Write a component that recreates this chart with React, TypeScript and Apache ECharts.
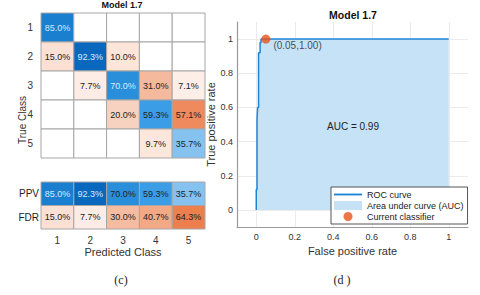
import React, { useEffect, useRef } from "react";
import * as echarts from "echarts";

const classes = ["1", "2", "3", "4", "5"];
const matrix: (number | null)[][] = [
  [85.0, null, null, null, null],
  [15.0, 92.3, 10.0, null, null],
  [null, 7.7, 70.0, 31.0, 7.1],
  [null, null, 20.0, 59.3, 57.1],
  [null, null, null, 9.7, 35.7],
];
const summaryRows = ["PPV", "FDR"];
const ppv = [85.0, 92.3, 70.0, 59.3, 35.7];
const fdr = [15.0, 7.7, 30.0, 40.7, 64.3];

const rocFpr = [0, 0, 0.004, 0.004, 0.007, 0.007, 0.012, 0.012, 0.02, 0.02, 0.025, 0.025, 1];
const rocTpr = [0, 0.12, 0.12, 0.53, 0.53, 0.6, 0.6, 0.92, 0.92, 0.98, 0.98, 1, 1];
const currentPoint = [0.05, 1.0];
const aucValue = 0.99;

const FONT = "Liberation Sans, Arial, sans-serif";

const blueStops: [number, string][] = [
  [0, "#ffffff"], [35.7, "#85c2ef"], [59.3, "#3b9de5"], [70, "#2a8fdb"],
  [85, "#1b7fd0"], [92.3, "#0a67be"], [100, "#0050a8"],
];
const orangeStops: [number, string][] = [
  [0, "#ffffff"], [7.5, "#fdede6"], [10, "#fde5d9"], [15, "#fbe0d3"], [20, "#f8d2c0"],
  [30, "#f5bca1"], [40.7, "#f3a986"], [57.1, "#ee8a5d"], [64.3, "#ed7f4f"], [100, "#d95319"],
];

function hexToRgb(h: string) {
  const n = parseInt(h.slice(1), 16);
  return [(n >> 16) & 255, (n >> 8) & 255, n & 255];
}
function interp(stops: [number, string][], v: number) {
  for (let i = 1; i < stops.length; i++) {
    if (v <= stops[i][0]) {
      const [v0, c0] = stops[i - 1];
      const [v1, c1] = stops[i];
      const t = (v - v0) / (v1 - v0 || 1);
      const a = hexToRgb(c0), b = hexToRgb(c1);
      const c = a.map((x, k) => Math.round(x + (b[k] - x) * t));
      return `rgb(${c[0]},${c[1]},${c[2]})`;
    }
  }
  return stops[stops.length - 1][1];
}

type Cell = { fill: string; text: string; textColor: string };

function makeCellRenderer(cells: Cell[]) {
  return (params: any, api: any) => {
    const cell = cells[params.dataIndex];
    const p = api.coord([api.value(0), api.value(1)]);
    const s = api.size([1, 1]);
    return {
      type: "group",
      children: [
        {
          type: "rect",
          shape: { x: p[0] - s[0] / 2, y: p[1] - s[1] / 2, width: s[0], height: s[1] },
          style: { fill: cell.fill, stroke: "#a6a6a6", lineWidth: 1 },
        },
        {
          type: "text",
          x: p[0], y: p[1],
          style: {
            text: cell.text, fill: cell.textColor, font: `9px ${FONT}`,
            align: "center", verticalAlign: "middle",
          },
        },
      ],
    };
  };
}

export default function App() {
  const ref = useRef<HTMLDivElement>(null);
  useEffect(() => {
    if (!ref.current) return;
    const chart = echarts.init(ref.current, undefined, { renderer: "svg" });

    const matrixData: number[][] = [];
    const matrixCells: Cell[] = [];
    matrix.forEach((row, r) =>
      row.forEach((v, c) => {
        const diag = r === c;
        matrixData.push([c, r, v == null ? 0 : v]);
        matrixCells.push({
          fill: v == null ? "#ffffff" : interp(diag ? blueStops : orangeStops, v),
          text: v == null ? "" : v.toFixed(1) + "%",
          textColor: diag && v != null && v > 65 ? "#d6eaff" : "#222222",
        });
      })
    );
    const summaryData: number[][] = [];
    const summaryCells: Cell[] = [];
    ppv.forEach((v, c) => {
      summaryData.push([c, 0, v]);
      summaryCells.push({ fill: interp(blueStops, v), text: v.toFixed(1) + "%", textColor: v > 80 ? "#d6eaff" : "#222222" });
    });
    fdr.forEach((v, c) => {
      summaryData.push([c, 1, v]);
      summaryCells.push({ fill: interp(orangeStops, v), text: v.toFixed(1) + "%", textColor: "#222222" });
    });

    const rocData = rocFpr.map((x, i) => [x, rocTpr[i]]);
    const tickFmt = (v: number) =>
      Math.abs(v * 5 - Math.round(v * 5)) < 1e-6 ? String(Math.round(v * 10) / 10) : "";

    const option: any = {
      animation: false,
      backgroundColor: "#ffffff",
      textStyle: { fontFamily: FONT },
      grid: [
        { left: 41, top: 13, width: 164, height: 145 },
        { left: 41, top: 182, width: 164, height: 47 },
        { left: 237, top: 22, width: 231, height: 205 },
      ],
      xAxis: [
        {
          gridIndex: 0, type: "category", data: classes,
          axisLine: { show: false }, axisTick: { show: false }, axisLabel: { show: false },
          splitLine: { show: false },
        },
        {
          gridIndex: 1, type: "category", data: classes, position: "bottom",
          axisLine: { show: false }, axisTick: { show: false },
          axisLabel: { fontSize: 10, color: "#333", margin: 6, fontFamily: FONT },
          name: "Predicted Class", nameLocation: "middle", nameGap: 17,
          nameTextStyle: { fontSize: 11, color: "#333", fontFamily: FONT },
        },
        {
          gridIndex: 2, type: "value", min: -0.1, max: 1.1, splitNumber: 6,
          axisLine: { show: true, onZero: false, lineStyle: { color: "#9a9a9a", width: 1.2 } },
          axisTick: { show: false },
          axisLabel: { fontSize: 9, color: "#333", margin: 5, formatter: tickFmt, fontFamily: FONT },
          splitLine: { show: true, showMinLine: false, showMaxLine: false, lineStyle: { color: "#ebebeb", width: 1 } },
          name: "False positive rate", nameLocation: "middle", nameGap: 16,
          nameTextStyle: { fontSize: 11, color: "#333", fontFamily: FONT },
        },
      ],
      yAxis: [
        {
          gridIndex: 0, type: "category", data: classes, inverse: true,
          axisLine: { show: false }, axisTick: { show: false },
          axisLabel: { fontSize: 10, color: "#333", margin: 8, fontFamily: FONT },
          splitLine: { show: false },
        },
        {
          gridIndex: 1, type: "category", data: summaryRows, inverse: true,
          axisLine: { show: false }, axisTick: { show: false },
          axisLabel: { fontSize: 10, color: "#222", margin: 2, fontFamily: FONT },
        },
        {
          gridIndex: 2, type: "value", min: -0.1, max: 1.1, splitNumber: 6,
          axisLine: { show: true, onZero: false, lineStyle: { color: "#9a9a9a", width: 1.2 } },
          axisTick: { show: false },
          axisLabel: { fontSize: 9, color: "#333", margin: 4, formatter: tickFmt, fontFamily: FONT },
          splitLine: { show: true, showMinLine: false, showMaxLine: false, lineStyle: { color: "#ebebeb", width: 1 } },
          name: "True positive rate", nameLocation: "middle", nameGap: 19,
          nameTextStyle: { fontSize: 11, color: "#333", fontFamily: FONT },
        },
      ],
      legend: {
        orient: "vertical", left: 331, top: 187, selectedMode: false,
        padding: [3, 4, 3, 3], itemGap: 2, itemWidth: 28, itemHeight: 9,
        backgroundColor: "#ffffff", borderColor: "#555555", borderWidth: 1, borderRadius: 0,
        textStyle: { fontSize: 9, color: "#222", fontFamily: FONT },
        data: [
          { name: "ROC curve", icon: "path://M0,0H30V2H0Z" },
          { name: "Area under curve (AUC)", icon: "rect" },
          { name: "Current classifier", icon: "circle" },
        ],
      },
      series: [
        {
          type: "custom", xAxisIndex: 0, yAxisIndex: 0, data: matrixData,
          renderItem: makeCellRenderer(matrixCells), silent: true,
        },
        {
          type: "custom", xAxisIndex: 1, yAxisIndex: 1, data: summaryData,
          renderItem: makeCellRenderer(summaryCells), silent: true,
        },
        {
          name: "Area under curve (AUC)", type: "line", xAxisIndex: 2, yAxisIndex: 2,
          data: rocData, showSymbol: false, symbol: "none",
          itemStyle: { color: "#c5e2f7" },
          lineStyle: { width: 0, color: "#c5e2f7" },
          areaStyle: { color: "#c5e2f7", opacity: 1 }, z: 1,
        },
        {
          name: "ROC curve", type: "line", xAxisIndex: 2, yAxisIndex: 2,
          data: rocData, showSymbol: false, symbol: "none",
          itemStyle: { color: "#1e84d6" },
          lineStyle: { width: 1.5, color: "#1e84d6" }, z: 3,
        },
        {
          name: "Current classifier", type: "scatter", xAxisIndex: 2, yAxisIndex: 2,
          data: [currentPoint], symbolSize: 9,
          itemStyle: { color: "#e8541a" }, z: 4,
          label: {
            show: true, position: [12, 11], align: "left", verticalAlign: "middle",
            fontSize: 10, color: "#222", fontFamily: FONT,
            formatter: (p: any) => `(${p.value[0].toFixed(2)},${p.value[1].toFixed(2)})`,
          },
        },
      ],
      graphic: [
        {
          type: "text", x: 122, y: 5,
          style: { text: "Model 1.7", font: `bold 9px ${FONT}`, fill: "#111", align: "center", verticalAlign: "middle" },
        },
        {
          type: "text", x: 353, y: 15,
          style: { text: "Model 1.7", font: `bold 10.5px ${FONT}`, fill: "#111", align: "center", verticalAlign: "middle" },
        },
        {
          type: "text", x: 22, y: 120, rotation: Math.PI / 2,
          style: { text: "True Class", font: `10px ${FONT}`, fill: "#333", align: "center", verticalAlign: "middle" },
        },
        {
          type: "text", x: 353, y: 126, z: 10,
          style: { text: `AUC = ${aucValue.toFixed(2)}`, font: `10px ${FONT}`, fill: "#222", align: "center", verticalAlign: "middle" },
        },
        {
          type: "text", x: 121, y: 280,
          style: { text: "(c)", font: `12px Liberation Serif, serif`, fill: "#222", align: "center", verticalAlign: "middle" },
        },
        {
          type: "text", x: 342, y: 280,
          style: { text: "(d )", font: `12px Liberation Serif, serif`, fill: "#222", align: "center", verticalAlign: "middle" },
        },
      ],
    };
    chart.setOption(option);
    return () => chart.dispose();
  }, []);

  return (
    <div
      ref={ref}
      style={{ width: 480, height: 295, position: "absolute", left: 0, top: 0 }}
    />
  );
}
